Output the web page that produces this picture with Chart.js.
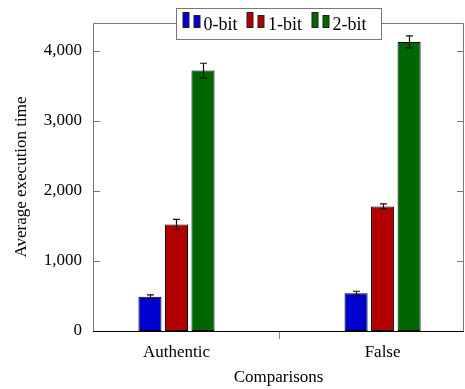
<!DOCTYPE html>
<html>
<head>
<meta charset="utf-8">
<script src="https://cdn.jsdelivr.net/npm/chart.js@4/dist/chart.umd.min.js"></script>
<style>
  html, body { margin: 0; padding: 0; background: #fff; }
</style>
</head>
<body>
<canvas id="chart" width="465" height="389"></canvas>
<script>
// values
const categories = ['Authentic', 'False'];
const seriesNames = ['0-bit', '1-bit', '2-bit'];
const bit0 = [490, 540];
const bit1 = [1520, 1780];
const bit2 = [3720, 4130];
const bit0Err = [25, 28];
const bit1Err = [75, 35];
const bit2Err = [105, 85];
const yTicks = [0, 1000, 2000, 3000, 4000];

const colors = ['#0000cc', '#b30000', '#006600'];
const serif = '"Liberation Serif", "Times New Roman", serif';

const errors = [bit0Err, bit1Err, bit2Err];
const values = [bit0, bit1, bit2];

const extras = {
    id: 'extras',
    beforeDatasetsDraw(chart) {
        const {ctx, chartArea: a, scales: {y}} = chart;
        ctx.save();
        ctx.strokeStyle = '#777';
        ctx.lineWidth = 1;
        ctx.beginPath();
        ctx.moveTo(a.left + 0.5, a.bottom);
        ctx.lineTo(a.left + 0.5, a.top + 0.5);
        ctx.lineTo(a.right - 0.5, a.top + 0.5);
        ctx.lineTo(a.right - 0.5, a.bottom);
        // inside ticks on both y axes
        yTicks.forEach(v => {
            const py = Math.round(y.getPixelForValue(v)) + 0.5;
            ctx.moveTo(a.left, py);
            ctx.lineTo(a.left + 7, py);
            ctx.moveTo(a.right, py);
            ctx.lineTo(a.right - 7, py);
        });
        ctx.stroke();
        ctx.restore();
    },
    afterDatasetsDraw(chart) {
        const {ctx, chartArea: a, scales: {y}} = chart;
        ctx.save();
        ctx.strokeStyle = '#111';
        ctx.lineWidth = 1.2;
        chart.data.datasets.forEach((ds, di) => {
            const meta = chart.getDatasetMeta(di);
            meta.data.forEach((bar, i) => {
                const v = values[di][i], e = errors[di][i];
                const x = Math.round(bar.x) + 0.5;
                const yHi = y.getPixelForValue(v + e);
                const yLo = y.getPixelForValue(v - e);
                ctx.beginPath();
                ctx.moveTo(x, yHi);
                ctx.lineTo(x, yLo);
                ctx.moveTo(x - 3.5, yHi);
                ctx.lineTo(x + 3.5, yHi);
                ctx.moveTo(x - 3.5, yLo);
                ctx.lineTo(x + 3.5, yLo);
                ctx.stroke();
            });
        });
        // x axis line
        ctx.strokeStyle = '#000';
        ctx.lineWidth = 1;
        ctx.beginPath();
        ctx.moveTo(a.left, a.bottom + 0.5);
        ctx.lineTo(a.right, a.bottom + 0.5);
        ctx.stroke();
        ctx.restore();
    },
    afterDraw(chart) {
        // pgfplots style legend sitting on the top axis line
        const {ctx, chartArea: a} = chart;
        const boxW = 205, boxH = 31;
        const bx = Math.round((a.left + a.right) / 2 - boxW / 2) + 0.5;
        const by = Math.round(a.top - boxH / 2) + 0.5;
        ctx.save();
        ctx.fillStyle = '#fff';
        ctx.strokeStyle = '#777';
        ctx.lineWidth = 1;
        ctx.fillRect(bx, by, boxW, boxH);
        ctx.strokeRect(bx, by, boxW, boxH);
        ctx.font = '18px ' + serif;
        ctx.textBaseline = 'middle';
        const base = by + 19;
        chart.data.datasets.forEach((ds, i) => {
            const x0 = bx + 6 + i * 64.5;
            ctx.fillStyle = ds.backgroundColor;
            ctx.strokeStyle = '#222';
            ctx.fillRect(Math.round(x0), base - 15, 6, 15);
            ctx.strokeRect(Math.round(x0), base - 15, 6, 15);
            ctx.fillRect(Math.round(x0) + 11, base - 12, 6, 12);
            ctx.strokeRect(Math.round(x0) + 11, base - 12, 6, 12);
            ctx.fillStyle = '#000';
            ctx.fillText(ds.label, x0 + 21, by + 17);
        });
        ctx.restore();
    }
};

const datasets = seriesNames.map((name, i) => ({
    label: name,
    data: values[i].map((v, j) => ({x: j, y: v})),
    backgroundColor: colors[i],
    borderColor: '#000',
    borderWidth: 1,
    borderSkipped: false,
    categoryPercentage: 0.386,
    barPercentage: 0.87
}));

new Chart(document.getElementById('chart'), {
    type: 'bar',
    data: {datasets},
    options: {
        responsive: false,
        animation: false,
        devicePixelRatio: 1,
        layout: {padding: {top: 23, right: 1, left: 0, bottom: 0}},
        plugins: {legend: {display: false}, tooltip: {enabled: false}},
        scales: {
            x: {
                type: 'linear',
                min: -0.405,
                max: 1.395,
                offset: false,
                afterBuildTicks: s => { s.ticks = categories.map((c, i) => ({value: i})); },
                afterFit: s => { s.height = 58; },
                grid: {drawOnChartArea: false, tickLength: 8, color: '#888'},
                border: {display: false},
                ticks: {
                    font: {family: serif, size: 17},
                    color: '#000',
                    padding: 3,
                    maxRotation: 0,
                    callback: v => categories[v]
                },
                title: {
                    display: true,
                    text: 'Comparisons',
                    font: {family: serif, size: 17},
                    color: '#000',
                    padding: {top: 0, bottom: 1}
                }
            },
            y: {
                min: 0,
                max: 4400,
                afterBuildTicks: s => { s.ticks = yTicks.map(v => ({value: v})); },
                afterFit: s => { s.width = 93; },
                grid: {display: false, drawTicks: false},
                border: {display: false},
                ticks: {
                    font: {family: serif, size: 17},
                    color: '#000',
                    padding: 11,
                    callback: v => v.toLocaleString('en-US')
                },
                title: {
                    display: true,
                    text: 'Average execution time',
                    font: {family: serif, size: 17},
                    color: '#000',
                    padding: {top: 11, bottom: 0}
                }
            }
        }
    },
    plugins: [extras]
});
</script>
</body>
</html>
